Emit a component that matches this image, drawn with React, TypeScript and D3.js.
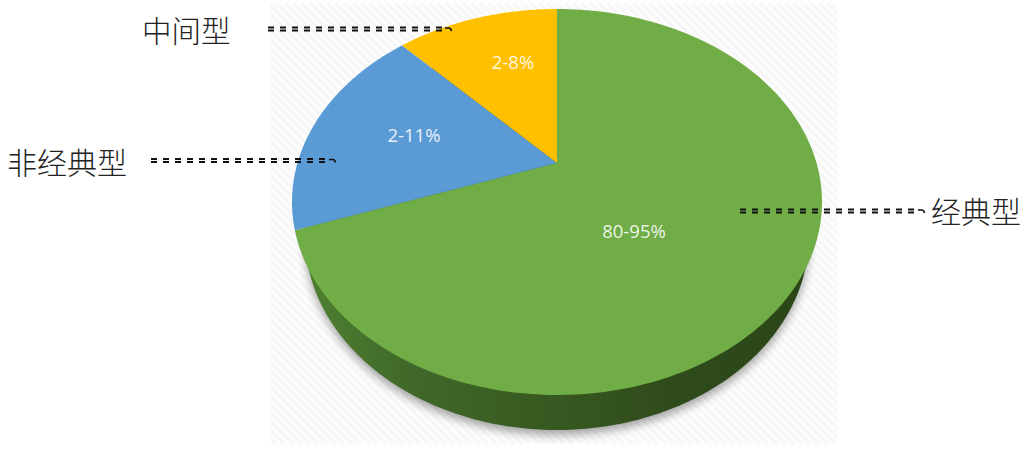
import React from "react";
import * as d3 from "d3";

const categories = ["经典型", "非经典型", "中间型"];
const sliceShares = [69.5, 18.5, 12];
const rangeLabels = ["80-95%", "2-11%", "2-8%"];
const sliceColors = ["#70ad47", "#5b9bd5", "#ffc000"];
const W = 1027, H = 449;

// Circle-to-screen homography: unit circle -> top ellipse, centre -> pie apex
const cx = 557, apexY = 163, topY = 9, botY = 395, rx = 265;
const c = (2 * apexY - topY - botY) / (botY - topY);
const a = apexY - topY * (1 - c);
const k = rx * Math.sqrt(1 - c * c);
const project = (u: number, v: number): [number, number] => {
  const w = 1 + c * v;
  return [cx + (k * u) / w, (a * v + apexY) / w];
};
const line = d3.line();
const pie = d3.pie<number>().sort(null).startAngle(0).endAngle(2 * Math.PI);
const arcs = pie(sliceShares);
const slicePath = (s: number, e: number) => {
  const pts: [number, number][] = [project(0, 0)];
  for (const t of d3.range(0, 1.0001, 1 / 160)) {
    const ang = s + (e - s) * t;
    pts.push(project(Math.sin(ang), -Math.cos(ang)));
  }
  return line(pts) + "Z";
};
const sideEllipse = (() => {
  const pts = d3.range(0, 2 * Math.PI, Math.PI / 180).map((t): [number, number] => [cx + 252 * Math.cos(t), 236 + 194 * Math.sin(t)]);
  return line(pts) + "Z";
})();

const labelPos = [
  { x: 634, y: 232 },
  { x: 414, y: 136 },
  { x: 513, y: 63 },
];
const calloutPos = [
  { x1: 740, x2: 924, y: 211, tx: 931, ty: 212, size: 30 },
  { x1: 151, x2: 335, y: 160.5, tx: 7, ty: 163, size: 30 },
  { x1: 268, x2: 451, y: 29, tx: 142, ty: 31, size: 29.5 },
];

export default function App() {
  return (
    <svg width={W} height={H} viewBox={`0 0 ${W} ${H}`} style={{ position: "absolute", left: 0, top: 0, background: "#fff" }}>
      <defs>
        <pattern id="hatch" width="6" height="6" patternUnits="userSpaceOnUse" patternTransform="rotate(-45)">
          <rect width="6" height="6" fill="#fdfdfd" />
          <rect width="2.5" height="6" fill="#f6f6f6" />
        </pattern>
        <linearGradient id="side" x1="0" x2="1" y1="0" y2="0">
          <stop offset="0" stopColor="#4f8030" />
          <stop offset="0.2" stopColor="#41692a" />
          <stop offset="0.5" stopColor="#375820" />
          <stop offset="0.75" stopColor="#2f4a1b" />
          <stop offset="1" stopColor="#2a4618" />
        </linearGradient>
        <filter id="blur" x="-10%" y="-10%" width="120%" height="120%">
          <feGaussianBlur stdDeviation="5" />
        </filter>
      </defs>
      <rect x={270} y={3} width={567} height={441} fill="url(#hatch)" />
      <path d={sideEllipse} fill="#000" opacity={0.35} filter="url(#blur)" transform="translate(0,5)" />
      <path d={sideEllipse} fill="url(#side)" />
      {arcs.map((d, i) => (
        <path key={categories[i]} d={slicePath(d.startAngle, d.endAngle)} fill={sliceColors[i]} />
      ))}
      {rangeLabels.map((t, i) => (
        <text key={t} x={labelPos[i].x} y={labelPos[i].y} dy="0.35em" textAnchor="middle" fill="#fff" fillOpacity={0.88} fontFamily="'Open Sans', sans-serif" fontSize={18.5}>{t}</text>
      ))}
      {calloutPos.map((l, i) => (
        <g key={categories[i]}>
          <line x1={l.x1} x2={l.x2 - 6} y1={l.y - 1.6} y2={l.y - 1.6} stroke="#111" strokeWidth={2} strokeDasharray="6 6" />
          <line x1={l.x1} x2={l.x2 - 6} y1={l.y + 1.6} y2={l.y + 1.6} stroke="#111" strokeWidth={2} strokeDasharray="6 6" />
          <path d={`M${l.x2 - 6},${l.y - 1}h3.5q2.5,0 3,3`} fill="none" stroke="#111" strokeWidth={1.6} />
          <text x={l.tx} y={l.ty} dy="0.36em" fill="#222" fontFamily="'Noto Sans CJK SC', sans-serif" fontWeight={300} fontSize={l.size}>{categories[i]}</text>
        </g>
      ))}
    </svg>
  );
}
